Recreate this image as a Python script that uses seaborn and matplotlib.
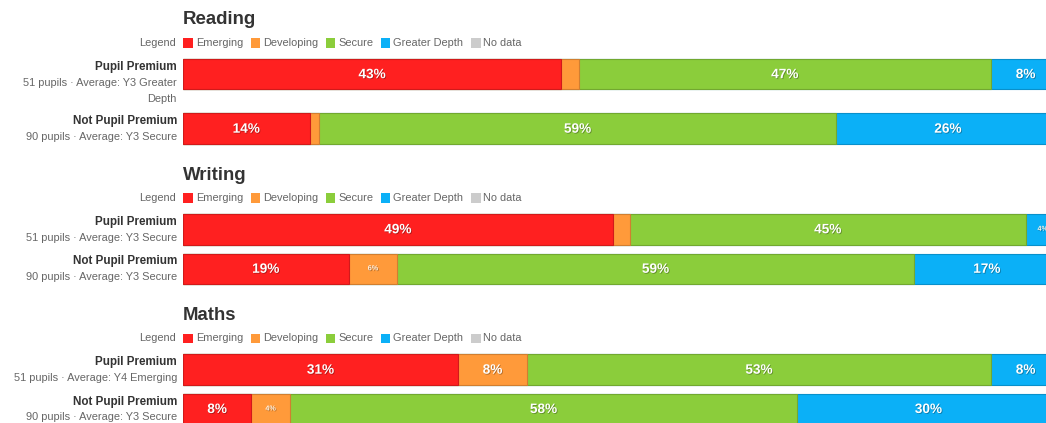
import textwrap

import matplotlib
matplotlib.use("Agg")
import matplotlib.patheffects as pe
import matplotlib.pyplot as plt
import numpy as np
import pandas as pd
import seaborn as sns
from matplotlib.colors import to_rgb
from matplotlib.patches import Rectangle

# data: pupil counts per attainment level (Emerging, Developing, Secure, Greater Depth, No data)
subjects = ["Reading", "Writing", "Maths"]
levels = ["Emerging", "Developing", "Secure", "Greater Depth", "No data"]
groups = ["Pupil Premium", "Not Pupil Premium"]
pupils = [51, 90]

reading_pp = [22, 1, 24, 4, 0]
reading_not_pp = [13, 1, 53, 23, 0]
writing_pp = [25, 1, 23, 2, 0]
writing_not_pp = [17, 5, 53, 15, 0]
maths_pp = [16, 4, 27, 4, 0]
maths_not_pp = [7, 4, 52, 27, 0]

reading_avg = ["Y3 Greater Depth", "Y3 Secure"]
writing_avg = ["Y3 Secure", "Y3 Secure"]
maths_avg = ["Y4 Emerging", "Y3 Secure"]

counts = {
    "Reading": [reading_pp, reading_not_pp],
    "Writing": [writing_pp, writing_not_pp],
    "Maths": [maths_pp, maths_not_pp],
}
averages = {"Reading": reading_avg, "Writing": writing_avg, "Maths": maths_avg}

level_colors = ["#ff2020", "#ff9a3a", "#8bcd3b", "#0bb0f7", "#cccccc"]

# layout in pixels (from the top of the figure)
W, H = 1046, 423
bar_left, bar_right = 183, 1060
bar_h = 30.5
bar_centers = {"Reading": (74.2, 128.7), "Writing": (229.3, 268.8), "Maths": (369.7, 409.0)}

sns.set_theme(style="white")
plt.rcParams["font.family"] = ["Liberation Sans", "DejaVu Sans"]

fig = plt.figure(figsize=(W / 100, H / 100), dpi=100)
renderer = fig.canvas.get_renderer()


def fx(px):
    return px / W


def fy(px):
    return 1 - px / H


def darker(color, k=0.82):
    return tuple(c * k for c in to_rgb(color))


shadow = [pe.SimplePatchShadow(offset=(0.6, -0.6), shadow_rgbFace="black", alpha=0.3), pe.Normal()]

for subject in subjects:
    c0, c1 = bar_centers[subject]
    unit = c1 - c0
    top = c0 - 0.5 * unit
    bottom = c1 + 0.5 * unit
    ax = fig.add_axes([fx(bar_left), fy(bottom), fx(bar_right - bar_left), (bottom - top) / H])

    pct = np.array([np.array(c) / n * 100 for c, n in zip(counts[subject], pupils)])
    cum = pct.cumsum(axis=1)

    # stacked bars: draw cumulative bars from the last level backwards
    for i in reversed(range(len(levels))):
        if pct[:, i].sum() == 0:
            continue
        df = pd.DataFrame({"group": groups, "cum": cum[:, i]})
        sns.barplot(
            data=df,
            x="cum",
            y="group",
            order=groups,
            orient="h",
            color=level_colors[i],
            saturation=1,
            width=bar_h / unit,
            edgecolor=darker(level_colors[i]),
            linewidth=0.8,
            ax=ax,
        )

    for g in range(len(groups)):
        for i in range(len(levels)):
            value = pct[g, i]
            if value < 3:
                continue
            mid = cum[g, i] - value / 2
            big = value >= 7
            ax.text(
                mid, g, f"{value:.0f}%",
                ha="center", va="center",
                color="white" if big else "#fff4e6",
                fontsize=9.8 if big else 5.2,
                fontweight="bold",
                path_effects=shadow,
            )

    ax.set_xlim(0, 100)
    ax.set_ylim(1.5, -0.5)
    ax.axis("off")

    # row labels
    for g, group in enumerate(groups):
        cy = (c0, c1)[g]
        fig.text(fx(177), fy(cy - 7.5), group, ha="right", va="center",
                 fontsize=8.4, fontweight="bold", color="#333333")
        sub = f"{pupils[g]} pupils · Average: {averages[subject][g]}"
        for k, line in enumerate(textwrap.wrap(sub, 32)):
            fig.text(fx(177), fy(cy + 8.3 + 16 * k), line, ha="right", va="center",
                     fontsize=7.9, color="#666666")

    # title and legend
    title_y = top + 0.5 * unit - bar_h / 2 - 39
    fig.text(fx(183), fy(title_y), subject, ha="left", va="center",
             fontsize=13.4, fontweight="bold", color="#333333")
    legend_y = title_y + 23
    fig.text(fx(176), fy(legend_y), "Legend", ha="right", va="center",
             fontsize=7.9, color="#666666")
    x = 183.3
    for level, color in zip(levels, level_colors):
        fig.patches.append(Rectangle((fx(x), fy(legend_y + 4.8)), fx(9.5), 9.5 / H,
                                     transform=fig.transFigure, facecolor=color,
                                     edgecolor="none"))
        t = fig.text(fx(x + 12.4), fy(legend_y), level, ha="left", va="center",
                     fontsize=7.9, color="#666666")
        w = t.get_window_extent(renderer).width
        x = x + 12.4 + w + 7.7

fig.savefig("out.png", dpi=100)
